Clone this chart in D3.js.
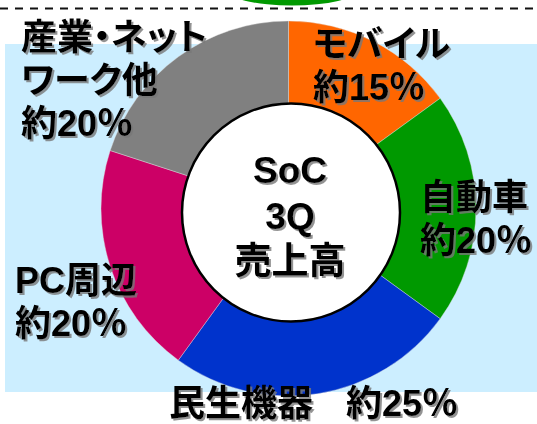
<!DOCTYPE html>
<html>
<head>
  <meta charset="utf-8">
  <style>
    body { margin: 0; background: #fff; }
    svg { display: block; }
    .lbl {
      font-family: "Liberation Sans", "Noto Sans CJK JP", sans-serif;
      font-weight: 700;
      font-size: 36px;
      fill: #000;
    }
    .lbl .kana {
      font-feature-settings: "palt";
    }
    .center-lbl {
      text-anchor: middle;
      font-size: 37px;
    }
  </style>
</head>
<body>
<svg width="537" height="424"></svg>
<script src="https://cdn.jsdelivr.net/npm/d3@7"></script>
<script>

// data (clockwise from 12 o'clock)
var categories = ["モバイル", "自動車", "民生機器", "PC周辺", "産業・ネットワーク他"]
var shares = [15, 20, 25, 20, 20]
var shareLabels = ["約15％", "約20％", "約25％", "約20％", "約20％"]
var centerLines = ["SoC", "3Q", "売上高"]

var sliceColors = ["#ff6600", "#009900", "#0033cc", "#cc0066", "#808080"]

var svg = d3.select("svg")

// drop shadow for the text
var defs = svg.append("defs")
var shadow = defs.append("filter")
  .attr("id", "shadow")
  .attr("x", "-10%").attr("y", "-10%")
  .attr("width", "130%").attr("height", "140%")
shadow.append("feDropShadow")
  .attr("dx", 2).attr("dy", 2)
  .attr("stdDeviation", 0.7)
  .attr("flood-color", "#777")
  .attr("flood-opacity", 0.8)

// background panel
svg.append("rect")
  .attr("x", 5).attr("y", 44)
  .attr("width", 532).attr("height", 348)
  .attr("fill", "#cceeff")

// dashed rule and green cap at the top
svg.append("ellipse")
  .attr("cx", 292).attr("cy", -10)
  .attr("rx", 65).attr("ry", 15.5)
  .attr("fill", "#009900")

svg.append("line")
  .attr("x1", 0).attr("x2", 537)
  .attr("y1", 8.5).attr("y2", 8.5)
  .attr("stroke", "#111")
  .attr("stroke-width", 2)
  .attr("stroke-dasharray", "8,7")

// pie
var color = d3.scaleOrdinal()
  .domain(categories)
  .range(sliceColors)

var pie = d3.pie()
  .sort(null)
  .value(function(d) { return d.v })

var arc = d3.arc()
  .innerRadius(0)
  .outerRadius(187.5)

var table = categories.map(function(c, i) { return {k: c, v: shares[i]} })

var g = svg.append("g")
  .attr("transform", "translate(288.5,208.5)")

g.selectAll(".slice")
  .data(pie(table))
  .enter().append("path")
  .attr("class", "slice")
  .attr("d", arc)
  .attr("fill", function(d) { return color(d.data.k) })
  .attr("stroke", "#e0e0e0")
  .attr("stroke-width", 0.4)

// white hub
svg.append("circle")
  .attr("cx", 291).attr("cy", 212.5)
  .attr("r", 109)
  .attr("fill", "#fff")
  .attr("stroke", "#000")
  .attr("stroke-width", 2.5)

// label layout: each line is [text, x, baseline]
var labelLayout = [
  [["モバイル", 313, 57], [shareLabels[0], 313, 100]],
  [["自動車", 420, 210], [shareLabels[1], 420, 253]],
  [["民生機器", 169, 416], [shareLabels[2], 346, 416]],
  [["PC周辺", 15, 293], [shareLabels[3], 15, 336]],
  [["産業・ネット", 21, 50], ["ワーク他", 21, 93], [shareLabels[4], 21, 136]]
]

labelLayout.forEach(function(l) {
  var t = svg.append("text")
    .attr("class", "lbl")
    .attr("filter", "url(#shadow)")
  l.forEach(function(s) {
    t.append("tspan")
      .attr("class", shareLabels.indexOf(s[0]) < 0 ? "kana" : null)
      .attr("x", s[1])
      .attr("y", s[2])
      .text(s[0])
  })
})

var ct = svg.append("text")
  .attr("class", "lbl center-lbl")
  .attr("filter", "url(#shadow)")
centerLines.forEach(function(s, i) {
  ct.append("tspan")
    .attr("x", 290)
    .attr("y", 183 + i * 45.5)
    .text(s)
})

</script>
</body>
</html>
